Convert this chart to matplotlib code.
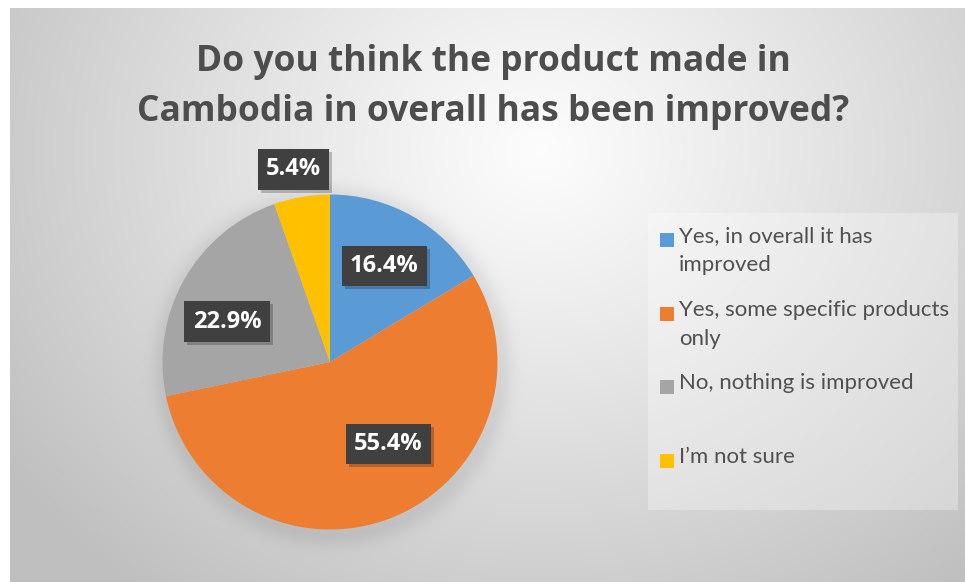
import numpy as np
import matplotlib
matplotlib.use("Agg")
import matplotlib.pyplot as plt
from matplotlib.patches import Rectangle

# ---- data ----
title = "Do you think the product made in\nCambodia in overall has been improved?"
categories = ["Yes, in overall it has\nimproved",
              "Yes, some specific products\nonly",
              "No, nothing is improved",
              "I\u2019m not sure"]
values = [16.4, 55.4, 22.9, 5.4]
colors = ["#5B9BD5", "#ED7D31", "#A5A5A5", "#FFC000"]

W, H = 965, 582
fig = plt.figure(figsize=(W / 100, H / 100), dpi=100)
fig.patch.set_facecolor("white")

# background axes in pixel coordinates
bg = fig.add_axes([0, 0, 1, 1])
bg.set_xlim(0, W)
bg.set_ylim(H, 0)
bg.axis("off")

x0, y0 = 10, 8
yy, xx = np.mgrid[y0:H, x0:W].astype(float)
d = np.sqrt(((xx - 540) / 1.05) ** 2 + ((yy - 150) / 0.9) ** 2)
t = np.clip(d / 620, 0, 1)
val = 0.99 - 0.24 * t ** 1.1
# soft pie shadow
pcx, pcy, R = 332, 366, 167
dp = np.sqrt((xx - pcx) ** 2 + (yy - pcy) ** 2)
sh = np.where(dp > R, np.exp(-((dp - R) / 14.0) ** 2), 1.0)
val = val - 0.07 * sh
img = np.dstack([val, val, val])
bg.imshow(img, extent=(x0, W, H, y0), aspect="auto", interpolation="bilinear", zorder=0)

# title
bg.text(493, 87, title, ha="center", va="center", fontsize=25.5, fontweight="bold",
        family="Open Sans", color="#4d4d4d", linespacing=1.55, zorder=3)

# pie axes
cx, cy, r = 330, 362, 167.5
ax = fig.add_axes([(cx - r) / W, (H - cy - r) / H, 2 * r / W, 2 * r / H])
ax.set_facecolor("none")
wedges, texts = ax.pie(values, colors=colors, startangle=90, counterclock=False,
                       radius=1, wedgeprops=dict(linewidth=0))
ax.set_xlim(-1, 1)
ax.set_ylim(-1, 1)
ax.axis("off")

# data labels
label_dist = [0.66, 0.60, 0.66, 1.17]
label_angle_shift = [0, 14, 8, 1]
cum = 0.0
labels = []
for v, dist, shift in zip(values, label_dist, label_angle_shift):
    mid = 90 - (cum + v / 2) * 360 / sum(values)
    cum += v
    a = np.deg2rad(mid + shift)
    px, py = dist * np.cos(a), dist * np.sin(a)
    tx = ax.text(px, py, f"{v:.1f}%", color="white", zorder=5, ha="center", va="center",
                 fontsize=17, fontweight="bold", family="Open Sans", clip_on=False,
                 bbox=dict(boxstyle="square,pad=0.35", facecolor="#404040", edgecolor="none"))
    labels.append(tx)

# label box shadows
fig.canvas.draw()
inv = ax.transData.inverted()
for tx in labels:
    ext = tx.get_bbox_patch().get_window_extent()
    (ax0, ay0), (ax1, ay1) = inv.transform([[ext.x0 + 3, ext.y0 - 3], [ext.x1 + 3, ext.y1 - 3]])
    ax.add_patch(Rectangle((ax0, ay0), ax1 - ax0, ay1 - ay0, facecolor="black", alpha=0.22,
                           edgecolor="none", zorder=4, clip_on=False))

# legend (drawn manually)
bg.add_patch(Rectangle((648, 213), 310, 297, facecolor="white", alpha=0.3,
                       edgecolor="none", zorder=2))
for i, (lab, c) in enumerate(zip(categories, colors)):
    ymid = 240 + i * 73.7
    bg.add_patch(Rectangle((660, ymid - 7), 14, 14, facecolor=c, edgecolor="none", zorder=3))
    bg.text(679, ymid - 14, lab, ha="left", va="top", fontsize=16, family="Lato",
            color="#505050", linespacing=1.58, zorder=3)

fig.savefig("out.png", dpi=100)
